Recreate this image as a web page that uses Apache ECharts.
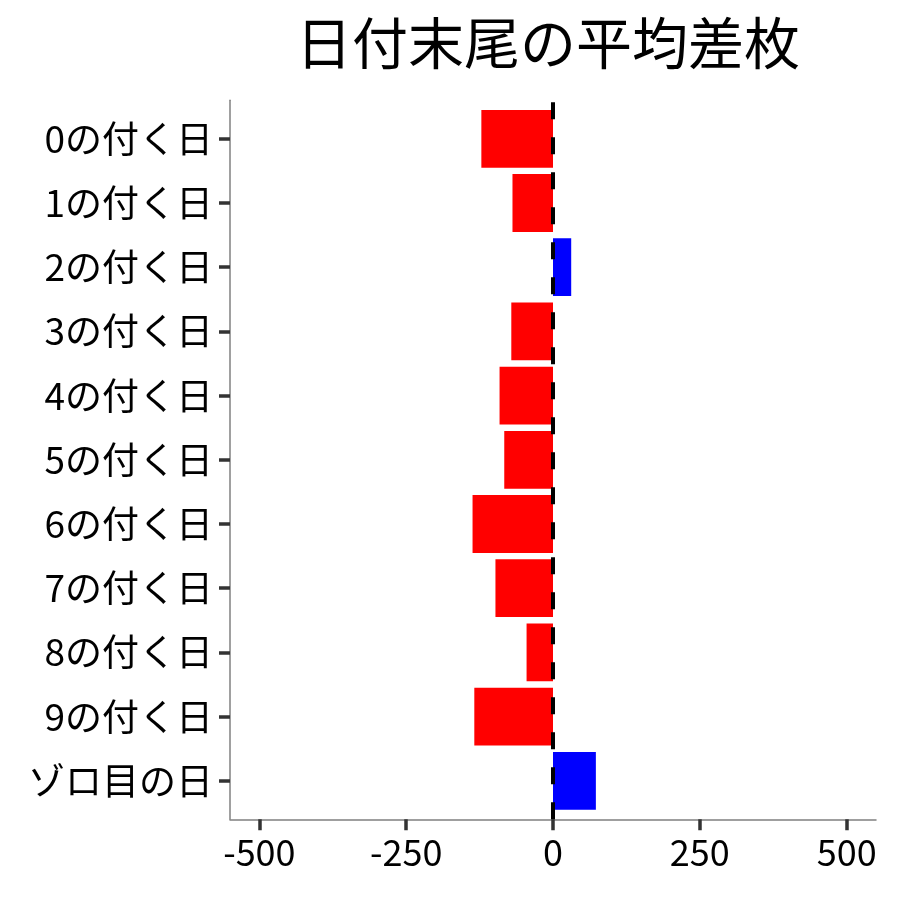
<!DOCTYPE html>
<html>
<head>
<meta charset="utf-8">
<script src="https://cdn.jsdelivr.net/npm/echarts@6/dist/echarts.min.js"></script>
<style>
  html, body { margin: 0; padding: 0; background: #fff; }
  #chart { width: 900px; height: 900px; }
</style>
</head>
<body>
<div id="chart"></div>
<script>
// 日付末尾ごとの平均差枚
var categories = ['0の付く日', '1の付く日', '2の付く日', '3の付く日', '4の付く日',
  '5の付く日', '6の付く日', '7の付く日', '8の付く日', '9の付く日', 'ゾロ目の日'];
var avgDiff = [-122, -69, 31, -71, -91, -83, -137, -98, -45, -134, 73];
var xTicks = [-500, -250, 0, 250, 500];

var font = '"Noto Sans CJK JP", "Noto Sans", sans-serif';

var barData = avgDiff.map(function (v) {
  return {
    value: v,
    itemStyle: { color: v < 0 ? '#ff0000' : '#0000ff' }
  };
});

var option = {
  backgroundColor: '#ffffff',
  animation: false,
  textStyle: { fontFamily: font },
  title: {
    text: '日付末尾の平均差枚',
    left: 291,
    top: 10,
    textStyle: { fontFamily: font, fontSize: 56, fontWeight: 'normal', color: '#000' }
  },
  grid: [
    // bars
    { left: 230, right: 24, top: 106.7, bottom: 87.1 },
    // axis frame
    { left: 230, right: 24, top: 100.3, bottom: 80.7 }
  ],
  xAxis: [
    {
      gridIndex: 0, type: 'value', min: -550, max: 550,
      show: false
    },
    {
      gridIndex: 1, type: 'value', min: -550, max: 550,
      axisLine: { show: true, onZero: false, lineStyle: { color: '#808080', width: 1.5 } },
      axisTick: { show: true, length: 11, customValues: xTicks,
        lineStyle: { color: '#333', width: 3.5 } },
      axisLabel: { customValues: xTicks, margin: 15, fontSize: 36, color: '#000', fontFamily: font },
      splitLine: { show: false }
    }
  ],
  yAxis: [
    {
      gridIndex: 0, type: 'category', data: categories, inverse: true,
      axisLine: { show: false, onZero: false },
      axisTick: { show: true, alignWithLabel: true, length: 11,
        lineStyle: { color: '#333', width: 3.5 } },
      axisLabel: { margin: 17, fontSize: 37, color: '#000', fontFamily: font }
    },
    {
      gridIndex: 1, type: 'value', min: 0, max: 1,
      axisLine: { show: true, onZero: false, lineStyle: { color: '#808080', width: 1.5 } },
      axisTick: { show: false },
      axisLabel: { show: false },
      splitLine: { show: false }
    }
  ],
  series: [
    {
      type: 'bar',
      xAxisIndex: 0,
      yAxisIndex: 0,
      data: barData,
      barCategoryGap: '10%',
      z: 2
    },
    {
      type: 'line',
      xAxisIndex: 1,
      yAxisIndex: 1,
      data: [],
      z: 5,
      markLine: {
        silent: true,
        symbol: 'none',
        label: { show: false },
        lineStyle: { color: '#000', width: 4, type: [17, 18] },
        data: [{ xAxis: 0 }]
      }
    }
  ]
};

var myChart = echarts.init(document.getElementById('chart'));
myChart.setOption(option);
</script>
</body>
</html>
